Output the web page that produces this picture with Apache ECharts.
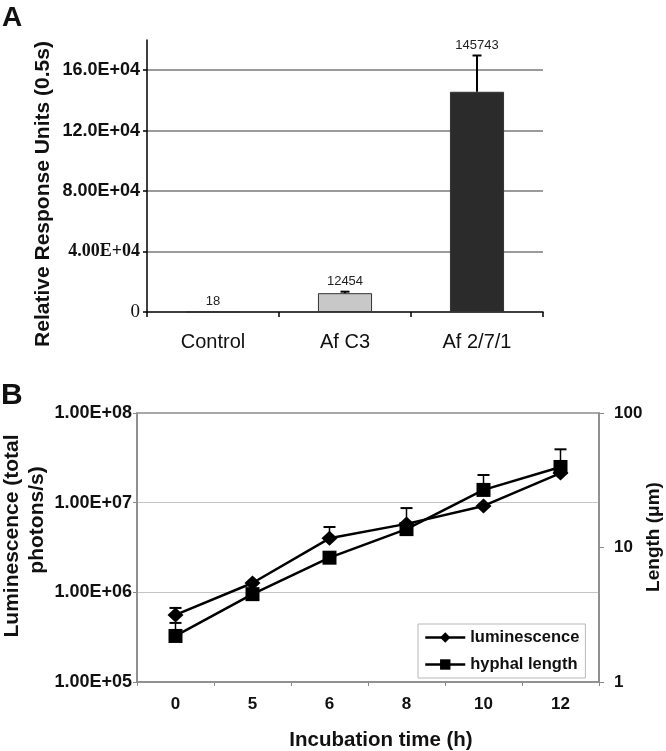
<!DOCTYPE html>
<html><head><meta charset="utf-8">
<script src="https://cdn.jsdelivr.net/npm/echarts@6/dist/echarts.min.js"></script>
<style>html,body{margin:0;padding:0;background:#fff}#c{width:666px;height:751px}</style>
</head><body><div id="c"></div>
<script>
// ---- Panel A data ----
const catsA = ['Control', 'Af C3', 'Af 2/7/1'];
const valsA = [18, 12454, 145743];
const errA = [0, 1000, 24000];
const labelsA = ['18', '12454', '145743'];
const yTicksA = [0, 40000, 80000, 120000, 160000];
const yTickLabelsA = ['0', '4.00E+04', '8.00E+04', '12.0E+04', '16.0E+04'];

// ---- Panel B data ----
const catsB = ['0', '5', '6', '8', '10', '12'];
const lum = [5.6e5, 1.27e6, 4.0e6, 5.8e6, 9.2e6, 2.14e7];
const lumErr = [1.1e5, 0, 1.35e6, 2.9e6, 0, 0];
const hyph = [2.2, 4.5, 8.4, 13.7, 26.8, 39.7];
const hyphErr = [0.55, 0, 0, 0, 7.8, 14];
const yTicksBLeft = [1e5, 1e6, 1e7, 1e8];
const yTickLabelsBLeft = ['1.00E+05', '1.00E+06', '1.00E+07', '1.00E+08'];
const yTicksBRight = [1, 10, 100];
const yTickLabelsBRight = ['1', '10', '100'];

const SANS = 'Liberation Sans, Arial, sans-serif';
const SERIF = 'Liberation Serif, Times New Roman, serif';

function logLabel(ticks, labels) {
  return function (v) {
    for (let i = 0; i < ticks.length; i++) {
      if (Math.abs(Math.log10(v) - Math.log10(ticks[i])) < 1e-6) return labels[i];
    }
    return '';
  };
}

function errRender(capHalf, lw, withLabel) {
  return function (params, api) {
    const x = api.value(0), v = api.value(1), e = api.value(2);
    const base = api.coord([x, v]);
    const top = api.coord([x, v + e]);
    const children = [];
    if (e > 0) {
      children.push({ type: 'line', shape: { x1: base[0], y1: base[1], x2: top[0], y2: top[1] }, style: { stroke: '#000', lineWidth: lw } });
      children.push({ type: 'line', shape: { x1: top[0] - capHalf, y1: top[1], x2: top[0] + capHalf, y2: top[1] }, style: { stroke: '#000', lineWidth: 2 } });
    }
    if (withLabel) {
      children.push({ type: 'text', x: top[0], y: top[1] - 4, style: { text: labelsA[params.dataIndex], fill: '#222', font: '13px ' + SANS, textAlign: 'center', textVerticalAlign: 'bottom' } });
    }
    return { type: 'group', children: children };
  };
}

const barColors = ['#c8c8c8', '#c8c8c8', '#2b2b2b'];

const option = {
  backgroundColor: '#fff',
  animation: false,
  grid: [
    { left: 147, top: 40, right: 123, bottom: 439 },
    { left: 137, top: 413, right: 67, bottom: 69, show: true, borderColor: '#8a8a8a', borderWidth: 1.5 }
  ],
  legend: {
    data: ['luminescence', 'hyphal length'],
    orient: 'vertical', left: 418, top: 624,
    padding: [5, 6, 5, 6], itemGap: 10, itemWidth: 40, itemHeight: 13,
    borderColor: '#b8b8b8', borderWidth: 1, backgroundColor: '#fff',
    lineStyle: { width: 2.5, color: '#000' },
    textStyle: { fontFamily: SANS, fontWeight: 'bold', fontSize: 16.5, color: '#111' }
  },
  xAxis: [
    {
      type: 'category', gridIndex: 0, data: catsA, boundaryGap: true,
      axisLine: { lineStyle: { color: '#000', width: 1.5 } },
      axisTick: { show: true, length: 5, interval: 0, lineStyle: { color: '#000', width: 1.5 } },
      axisLabel: { margin: 20, fontFamily: SANS, fontSize: 20, color: '#111' }
    },
    {
      type: 'category', gridIndex: 1, data: catsB, boundaryGap: true,
      axisLine: { lineStyle: { color: '#8a8a8a', width: 1.5 } },
      axisTick: { show: true, length: 4, interval: 0, lineStyle: { color: '#8a8a8a', width: 1 } },
      axisLabel: { margin: 14, fontFamily: SANS, fontWeight: 'bold', fontSize: 17, color: '#111' }
    }
  ],
  yAxis: [
    {
      type: 'value', gridIndex: 0, min: 0, max: 180000, interval: 40000,
      axisLine: { show: true, lineStyle: { color: '#000', width: 1.5 } },
      axisTick: { show: true, length: 4, lineStyle: { color: '#000', width: 1.5 } },
      splitLine: { show: true, showMinLine: false, showMaxLine: false, lineStyle: { color: '#7a7a7a', width: 1.5 } },
      axisLabel: {
        margin: 7, showMaxLabel: false,
        formatter: function (v) {
          const i = yTicksA.indexOf(v);
          if (i < 0) return '';
          const key = v === 0 ? 'z' : (v <= 40000 ? 't' : 's');
          return '{' + key + '|' + yTickLabelsA[i] + '}';
        },
        rich: {
          s: { fontFamily: SANS, fontWeight: 'bold', fontSize: 18, color: '#111' },
          t: { fontFamily: SERIF, fontWeight: 'bold', fontSize: 18, color: '#111' },
          z: { fontFamily: SERIF, fontSize: 19, color: '#111' }
        }
      }
    },
    {
      type: 'log', gridIndex: 1, logBase: 10, min: 1e5, max: 1e8,
      axisLine: { show: true, lineStyle: { color: '#8a8a8a', width: 1.5 } },
      axisTick: { show: true, length: 4, lineStyle: { color: '#8a8a8a', width: 1 } },
      splitLine: { show: true, showMinLine: false, showMaxLine: false, lineStyle: { color: '#c4c4c4', width: 1 } },
      axisLabel: { margin: 5, formatter: logLabel(yTicksBLeft, yTickLabelsBLeft), fontFamily: SANS, fontWeight: 'bold', fontSize: 18, color: '#111' }
    },
    {
      type: 'log', gridIndex: 1, logBase: 10, min: 1, max: 100, position: 'right',
      axisLine: { show: true, lineStyle: { color: '#8a8a8a', width: 1.5 } },
      axisTick: { show: true, length: 5, lineStyle: { color: '#8a8a8a', width: 1 } },
      splitLine: { show: false },
      axisLabel: { margin: 15, formatter: logLabel(yTicksBRight, yTickLabelsBRight), fontFamily: SANS, fontWeight: 'bold', fontSize: 17, color: '#111' }
    }
  ],
  graphic: [
    { type: 'text', x: 2, y: 18, style: { text: 'A', font: 'bold 28px ' + SANS, fill: '#111', textVerticalAlign: 'middle' } },
    { type: 'text', x: 1, y: 396, style: { text: 'B', font: 'bold 30px ' + SANS, fill: '#111', textVerticalAlign: 'middle' } },
    { type: 'text', x: 43, y: 194, rotation: Math.PI / 2, style: { text: 'Relative Response Units (0.5s)', font: 'bold 21px ' + SANS, fill: '#111', textAlign: 'center', textVerticalAlign: 'middle' } },
    { type: 'text', x: 12, y: 536, rotation: Math.PI / 2, style: { text: 'Luminescence (total', font: 'bold 21px ' + SANS, fill: '#111', textAlign: 'center', textVerticalAlign: 'middle' } },
    { type: 'text', x: 37, y: 520, rotation: Math.PI / 2, style: { text: 'photons/s)', font: 'bold 21px ' + SANS, fill: '#111', textAlign: 'center', textVerticalAlign: 'middle' } },
    { type: 'text', x: 654, y: 537, rotation: Math.PI / 2, style: { text: 'Length (μm)', font: 'bold 19px ' + SANS, fill: '#111', textAlign: 'center', textVerticalAlign: 'middle' } },
    { type: 'text', x: 381, y: 740, style: { text: 'Incubation time (h)', font: 'bold 20.5px ' + SANS, fill: '#111', textAlign: 'center', textVerticalAlign: 'middle' } }
  ],
  series: [
    {
      type: 'bar', xAxisIndex: 0, yAxisIndex: 0, barWidth: '41%', z: 2,
      data: valsA.map(function (v, i) {
        return { value: v, itemStyle: { color: barColors[i], borderColor: '#333', borderWidth: 1 } };
      })
    },
    {
      type: 'custom', xAxisIndex: 0, yAxisIndex: 0, z: 3,
      renderItem: errRender(4.5, 2, true),
      data: valsA.map(function (v, i) { return [i, v, errA[i]]; })
    },
    {
      type: 'custom', xAxisIndex: 1, yAxisIndex: 1, z: 1,
      renderItem: errRender(6, 1.5, false),
      data: lum.map(function (v, i) { return [i, v, lumErr[i]]; })
    },
    {
      type: 'custom', xAxisIndex: 1, yAxisIndex: 2, z: 1,
      renderItem: errRender(6, 1.5, false),
      data: hyph.map(function (v, i) { return [i, v, hyphErr[i]]; })
    },
    {
      name: 'luminescence', type: 'line', xAxisIndex: 1, yAxisIndex: 1, z: 3,
      data: lum, symbol: 'diamond', symbolSize: [16, 15],
      lineStyle: { color: '#000', width: 2.5 }, itemStyle: { color: '#000' }
    },
    {
      name: 'hyphal length', type: 'line', xAxisIndex: 1, yAxisIndex: 2, z: 3,
      data: hyph, symbol: 'rect', symbolSize: 14,
      lineStyle: { color: '#000', width: 2.5 }, itemStyle: { color: '#000' }
    }
  ]
};

const chart = echarts.init(document.getElementById('c'), null, { renderer: 'canvas' });
chart.setOption(option);
</script>
</body></html>
